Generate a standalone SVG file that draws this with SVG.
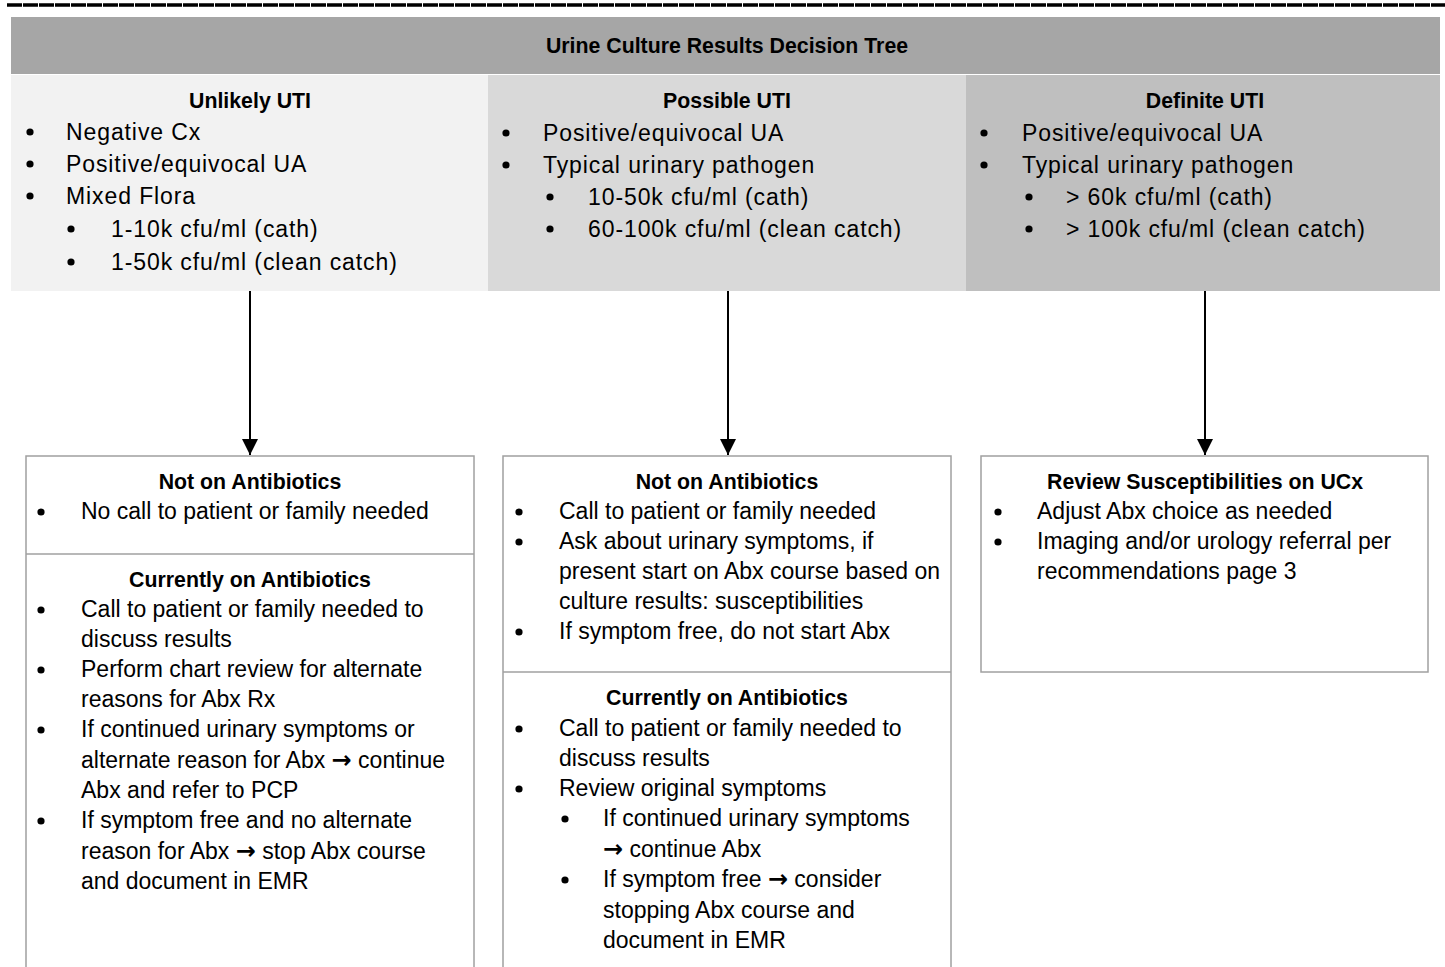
<svg xmlns="http://www.w3.org/2000/svg" width="1445" height="967" viewBox="0 0 1445 967">
<style>
text{font-family:"Liberation Sans",Arial,sans-serif;fill:#000}
.t{font-size:21.3px;font-weight:bold;text-anchor:middle}
.h{font-size:21.3px;font-weight:bold;text-anchor:middle}
.top{font-size:23px;letter-spacing:0.9px}
.b{font-size:23px}
.ar{font-family:"DejaVu Sans",sans-serif;font-size:24px;font-weight:bold}
.box{fill:#fff;stroke:#a0a0a0;stroke-width:1.5}
.div{stroke:#a0a0a0;stroke-width:1.5}
.conn{stroke:#000;stroke-width:2;fill:none}
</style>
<defs>
<marker id="ah" viewBox="0 0 16 16" refX="16" refY="8" markerWidth="16" markerHeight="16" markerUnits="userSpaceOnUse" orient="auto">
<path d="M0,0 L16,8 L0,16 Z" fill="#000"/>
</marker>
<circle id="dot" r="3.6" fill="#000"/>
</defs>
<rect width="1445" height="967" fill="#fff"/>
<line x1="7" y1="5" x2="1445" y2="5" stroke="#000" stroke-width="3.5" stroke-dasharray="15 1"/>

<g id="header">
<rect x="11" y="17" width="1429" height="57" fill="#a6a6a6"/>
<text class="t" x="727" y="53">Urine Culture Results Decision Tree</text>
</g>

<g id="unlikely">
<rect x="11" y="75" width="477" height="216" fill="#f2f2f2"/>
<text class="h" x="250" y="108">Unlikely UTI</text>
<use href="#dot" x="30" y="132"/><text class="top" x="66" y="140">Negative Cx</text>
<use href="#dot" x="30" y="164"/><text class="top" x="66" y="172">Positive/equivocal UA</text>
<use href="#dot" x="30" y="196"/><text class="top" x="66" y="204">Mixed Flora</text>
<use href="#dot" x="71" y="229"/><text class="top" x="111" y="237">1-10k cfu/ml (cath)</text>
<use href="#dot" x="71" y="262"/><text class="top" x="111" y="270">1-50k cfu/ml (clean catch)</text>
</g>

<g id="possible">
<rect x="488" y="75" width="478" height="216" fill="#d9d9d9"/>
<text class="h" x="727" y="108">Possible UTI</text>
<use href="#dot" x="506" y="133"/><text class="top" x="543" y="141">Positive/equivocal UA</text>
<use href="#dot" x="506" y="165"/><text class="top" x="543" y="173">Typical urinary pathogen</text>
<use href="#dot" x="550" y="197"/><text class="top" x="588" y="205">10-50k cfu/ml (cath)</text>
<use href="#dot" x="550" y="229"/><text class="top" x="588" y="237">60-100k cfu/ml (clean catch)</text>
</g>

<g id="definite">
<rect x="966" y="75" width="474" height="216" fill="#bfbfbf"/>
<text class="h" x="1205" y="108">Definite UTI</text>
<use href="#dot" x="984" y="133"/><text class="top" x="1022" y="141">Positive/equivocal UA</text>
<use href="#dot" x="984" y="165"/><text class="top" x="1022" y="173">Typical urinary pathogen</text>
<use href="#dot" x="1029" y="197"/><text class="top" x="1066" y="205">&gt; 60k cfu/ml (cath)</text>
<use href="#dot" x="1029" y="229"/><text class="top" x="1066" y="237">&gt; 100k cfu/ml (clean catch)</text>
</g>

<g id="connectors">
<line class="conn" x1="250" y1="291" x2="250" y2="455" marker-end="url(#ah)"/>
<line class="conn" x1="728" y1="291" x2="728" y2="455" marker-end="url(#ah)"/>
<line class="conn" x1="1205" y1="291" x2="1205" y2="455" marker-end="url(#ah)"/>
</g>

<g id="unlikely-actions">
<rect class="box" x="26" y="456" width="448" height="520"/>
<line class="div" x1="26" y1="554" x2="474" y2="554"/>
<text class="h" x="250" y="489">Not on Antibiotics</text>
<use href="#dot" x="41" y="512"/><text class="b" x="81" y="519">No call to patient or family needed</text>
<text class="h" x="250" y="587">Currently on Antibiotics</text>
<use href="#dot" x="41" y="610"/><text class="b" x="81" y="617">Call to patient or family needed to</text>
<text class="b" x="81" y="647">discuss results</text>
<use href="#dot" x="41" y="670"/><text class="b" x="81" y="677">Perform chart review for alternate</text>
<text class="b" x="81" y="707">reasons for Abx Rx</text>
<use href="#dot" x="41" y="730"/><text class="b" x="81" y="737">If continued urinary symptoms or</text>
<text class="b" x="81" y="768">alternate reason for Abx <tspan class="ar">→</tspan> continue</text>
<text class="b" x="81" y="798">Abx and refer to PCP</text>
<use href="#dot" x="41" y="821"/><text class="b" x="81" y="828">If symptom free and no alternate</text>
<text class="b" x="81" y="859">reason for Abx <tspan class="ar">→</tspan> stop Abx course</text>
<text class="b" x="81" y="889">and document in EMR</text>
</g>

<g id="possible-actions">
<rect class="box" x="503" y="456" width="448" height="520"/>
<line class="div" x1="503" y1="672" x2="951" y2="672"/>
<text class="h" x="727" y="489">Not on Antibiotics</text>
<use href="#dot" x="519" y="512"/><text class="b" x="559" y="519">Call to patient or family needed</text>
<use href="#dot" x="519" y="542"/><text class="b" x="559" y="549">Ask about urinary symptoms, if</text>
<text class="b" x="559" y="579">present start on Abx course based on</text>
<text class="b" x="559" y="609">culture results: susceptibilities</text>
<use href="#dot" x="519" y="632"/><text class="b" x="559" y="639">If symptom free, do not start Abx</text>
<text class="h" x="727" y="705">Currently on Antibiotics</text>
<use href="#dot" x="519" y="729"/><text class="b" x="559" y="736">Call to patient or family needed to</text>
<text class="b" x="559" y="766">discuss results</text>
<use href="#dot" x="519" y="789"/><text class="b" x="559" y="796">Review original symptoms</text>
<use href="#dot" x="565" y="819"/><text class="b" x="603" y="826">If continued urinary symptoms</text>
<text class="b" x="603" y="857"><tspan class="ar">→</tspan> continue Abx</text>
<use href="#dot" x="565" y="880"/><text class="b" x="603" y="887">If symptom free <tspan class="ar">→</tspan> consider</text>
<text class="b" x="603" y="918">stopping Abx course and</text>
<text class="b" x="603" y="948">document in EMR</text>
</g>

<g id="definite-actions">
<rect class="box" x="981" y="456" width="447" height="216"/>
<text class="h" x="1205" y="489">Review Susceptibilities on UCx</text>
<use href="#dot" x="998" y="512"/><text class="b" x="1037" y="519">Adjust Abx choice as needed</text>
<use href="#dot" x="998" y="542"/><text class="b" x="1037" y="549">Imaging and/or urology referral per</text>
<text class="b" x="1037" y="579">recommendations page 3</text>
</g>
</svg>
